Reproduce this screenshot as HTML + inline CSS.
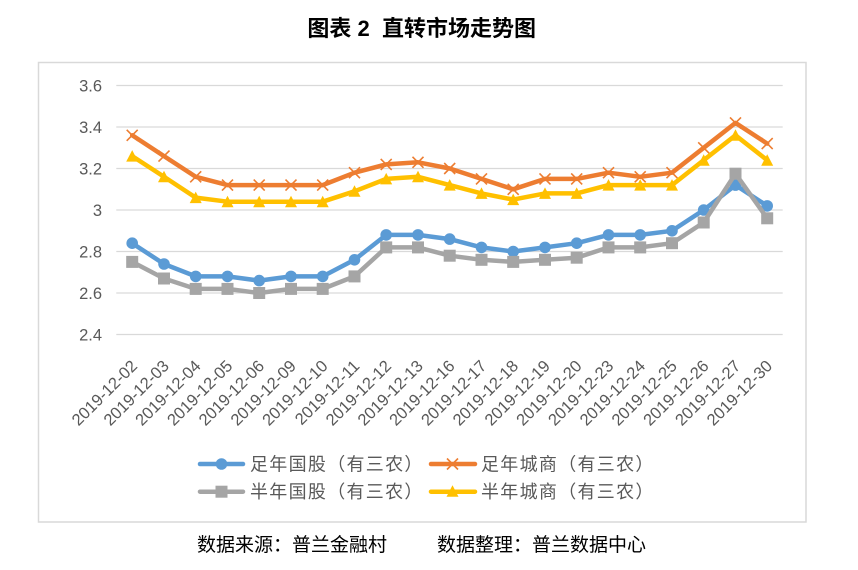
<!DOCTYPE html>
<html>
<head>
<meta charset="utf-8">
<style>
html,body{margin:0;padding:0;background:#fff;}
body{width:858px;height:570px;overflow:hidden;}
svg{display:block;}
.ylab{font-family:"Liberation Sans",sans-serif;font-size:16.5px;fill:#595959;}
.xlab{font-family:"Liberation Sans",sans-serif;font-size:16.5px;fill:#595959;}
.leg{font-family:"Liberation Sans","Noto Sans CJK SC",sans-serif;font-size:18px;fill:#595959;letter-spacing:1.3px;}
.foot{font-family:"Liberation Sans","Noto Sans CJK SC",sans-serif;font-size:19px;fill:#000;}
.title{font-family:"Liberation Sans","Noto Sans CJK SC",sans-serif;font-size:22px;font-weight:bold;fill:#000;}
</style>
</head>
<body>
<svg width="858" height="570" viewBox="0 0 858 570" xmlns="http://www.w3.org/2000/svg">
<defs>
<marker id="mc" markerUnits="userSpaceOnUse" markerWidth="14" markerHeight="14" refX="7" refY="7" overflow="visible">
<circle cx="7" cy="7" r="5.8" fill="#5B9BD5"/>
</marker>
<marker id="ms" markerUnits="userSpaceOnUse" markerWidth="14" markerHeight="14" refX="7" refY="7" overflow="visible">
<rect x="1" y="1" width="12" height="12" fill="#A5A5A5"/>
</marker>
<marker id="mt" markerUnits="userSpaceOnUse" markerWidth="14" markerHeight="14" refX="7" refY="7" overflow="visible">
<polygon points="7,1 13,12.5 1,12.5" fill="#FFC000"/>
</marker>
<marker id="mx" markerUnits="userSpaceOnUse" markerWidth="14" markerHeight="14" refX="7" refY="7" overflow="visible">
<path d="M1.5,1.5 L12.5,12.5 M12.5,1.5 L1.5,12.5" stroke="#ED7D31" stroke-width="1.6" fill="none"/>
</marker>
</defs>

<text class="title" x="421.7" y="36" text-anchor="middle" xml:space="preserve">图表 2  直转市场走势图</text>

<rect x="38.5" y="62.5" width="767.5" height="459.5" fill="#fff" stroke="#d9d9d9" stroke-width="1.5"/>

<g stroke="#d9d9d9" stroke-width="1.3">
<line x1="116.3" y1="85.5" x2="782.7" y2="85.5"/>
<line x1="116.3" y1="127" x2="782.7" y2="127"/>
<line x1="116.3" y1="168.5" x2="782.7" y2="168.5"/>
<line x1="116.3" y1="210" x2="782.7" y2="210"/>
<line x1="116.3" y1="251.5" x2="782.7" y2="251.5"/>
<line x1="116.3" y1="293" x2="782.7" y2="293"/>
<line x1="116.3" y1="334.5" x2="782.7" y2="334.5"/>
</g>

<g class="ylab" text-anchor="end">
<text x="102" y="91.5">3.6</text>
<text x="102" y="133">3.4</text>
<text x="102" y="174.5">3.2</text>
<text x="102" y="216">3</text>
<text x="102" y="257.5">2.8</text>
<text x="102" y="299">2.6</text>
<text x="102" y="340.5">2.4</text>
</g>

<g class="xlab" text-anchor="end">
<text transform="translate(138.2,367) rotate(-45)">2019-12-02</text>
<text transform="translate(170,367) rotate(-45)">2019-12-03</text>
<text transform="translate(201.7,367) rotate(-45)">2019-12-04</text>
<text transform="translate(233.5,367) rotate(-45)">2019-12-05</text>
<text transform="translate(265.2,367) rotate(-45)">2019-12-06</text>
<text transform="translate(297,367) rotate(-45)">2019-12-09</text>
<text transform="translate(328.7,367) rotate(-45)">2019-12-10</text>
<text transform="translate(360.5,367) rotate(-45)">2019-12-11</text>
<text transform="translate(392.2,367) rotate(-45)">2019-12-12</text>
<text transform="translate(424,367) rotate(-45)">2019-12-13</text>
<text transform="translate(455.7,367) rotate(-45)">2019-12-16</text>
<text transform="translate(487.5,367) rotate(-45)">2019-12-17</text>
<text transform="translate(519.2,367) rotate(-45)">2019-12-18</text>
<text transform="translate(551,367) rotate(-45)">2019-12-19</text>
<text transform="translate(582.7,367) rotate(-45)">2019-12-20</text>
<text transform="translate(614.5,367) rotate(-45)">2019-12-23</text>
<text transform="translate(646.2,367) rotate(-45)">2019-12-24</text>
<text transform="translate(678,367) rotate(-45)">2019-12-25</text>
<text transform="translate(709.7,367) rotate(-45)">2019-12-26</text>
<text transform="translate(741.5,367) rotate(-45)">2019-12-27</text>
<text transform="translate(773.2,367) rotate(-45)">2019-12-30</text>
</g>

<g fill="none" stroke-width="4.5" stroke-linejoin="round" stroke-linecap="round">
<polyline stroke="#5B9BD5" marker-start="url(#mc)" marker-mid="url(#mc)" marker-end="url(#mc)"
points="132.2,243.2 164,264 195.7,276.4 227.5,276.4 259.2,280.6 291,276.4 322.7,276.4 354.5,259.8 386.2,234.9 418,234.9 449.7,239.1 481.5,247.4 513.2,251.5 545,247.4 576.7,243.2 608.5,234.9 640.2,234.9 672,230.8 703.7,210 735.5,185.1 767.2,205.9"/>
<polyline stroke="#ED7D31" marker-start="url(#mx)" marker-mid="url(#mx)" marker-end="url(#mx)"
points="132.2,135.3 164,156.1 195.7,176.8 227.5,185.1 259.2,185.1 291,185.1 322.7,185.1 354.5,172.7 386.2,164.4 418,162.3 449.7,168.5 481.5,178.9 513.2,189.3 545,178.9 576.7,178.9 608.5,172.7 640.2,176.8 672,172.7 703.7,147.8 735.5,122.9 767.2,143.6"/>
<polyline stroke="#A5A5A5" marker-start="url(#ms)" marker-mid="url(#ms)" marker-end="url(#ms)"
points="132.2,261.9 164,278.5 195.7,288.9 227.5,288.9 259.2,293 291,288.9 322.7,288.9 354.5,276.4 386.2,247.4 418,247.4 449.7,255.7 481.5,259.8 513.2,261.9 545,259.8 576.7,257.7 608.5,247.4 640.2,247.4 672,243.2 703.7,222.5 735.5,173.7 767.2,218.3"/>
<polyline stroke="#FFC000" marker-start="url(#mt)" marker-mid="url(#mt)" marker-end="url(#mt)"
points="132.2,156.1 164,176.8 195.7,197.6 227.5,201.7 259.2,201.7 291,201.7 322.7,201.7 354.5,191.3 386.2,178.9 418,176.8 449.7,185.1 481.5,193.4 513.2,199.6 545,193.4 576.7,193.4 608.5,185.1 640.2,185.1 672,185.1 703.7,160.2 735.5,135.3 767.2,160.2"/>
</g>

<!-- legend -->
<g stroke-width="4.5" stroke-linecap="round">
<line x1="200" y1="464" x2="243" y2="464" stroke="#5B9BD5"/>
<line x1="431" y1="464" x2="475" y2="464" stroke="#ED7D31"/>
<line x1="200" y1="491.7" x2="243" y2="491.7" stroke="#A5A5A5"/>
<line x1="431" y1="491.7" x2="475" y2="491.7" stroke="#FFC000"/>
</g>
<circle cx="221.5" cy="464" r="5.8" fill="#5B9BD5"/>
<path d="M447,458.5 L458,469.5 M458,458.5 L447,469.5" stroke="#ED7D31" stroke-width="1.6"/>
<rect x="215.5" y="485.7" width="12" height="12" fill="#A5A5A5"/>
<polygon points="452.5,485.2 458.5,496.7 446.5,496.7" fill="#FFC000"/>

<g class="leg">
<text x="250" y="470.5">足年国股（有三农）</text>
<text x="481" y="470.5">足年城商（有三农）</text>
<text x="250" y="498.2">半年国股（有三农）</text>
<text x="481" y="498.2">半年城商（有三农）</text>
</g>

<text class="foot" x="197" y="551">数据来源：普兰金融村</text>
<text class="foot" x="437" y="551">数据整理：普兰数据中心</text>
</svg>
</body>
</html>
